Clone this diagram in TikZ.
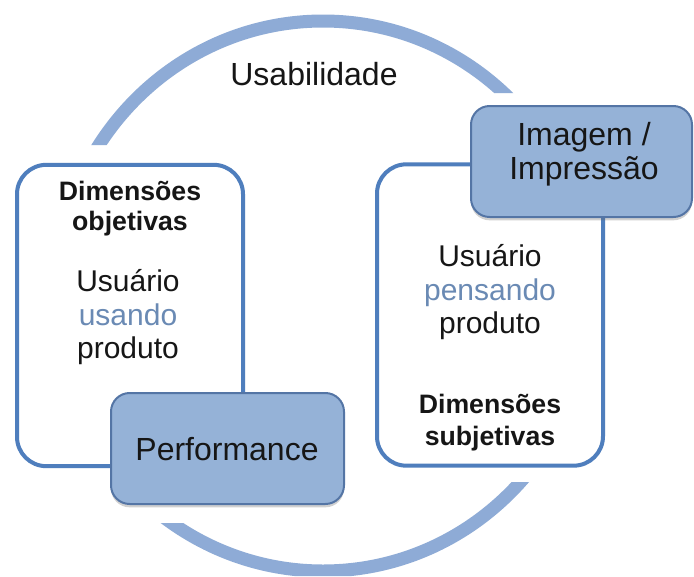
\documentclass[tikz,border=0pt]{standalone}
\usepackage{fontspec}
\setmainfont{Liberation Sans}
\usetikzlibrary{shadows}
\definecolor{ringblue}{RGB}{142,171,214}
\definecolor{boxfill}{RGB}{149,178,215}
\definecolor{frameblue}{RGB}{79,126,189}
\definecolor{boxedge}{RGB}{84,117,165}
\definecolor{accent}{RGB}{106,138,180}
\definecolor{txt}{RGB}{22,22,22}
\begin{document}
\begin{tikzpicture}[x=0.75pt,y=-0.75pt,
  framebox/.style={draw=frameblue, line width=3pt, fill=white, rounded corners=22pt,
    minimum width=169.5pt, minimum height=226pt, inner sep=0pt},
  bluebox/.style={draw=boxedge, line width=1.5pt, fill=boxfill, rounded corners=14pt,
    minimum height=83.25pt, inner sep=0pt,
    drop shadow={shadow xshift=0pt, shadow yshift=-2.5pt, opacity=0.3, fill=black!60}},
  bigtxt/.style={anchor=base, text=txt, font=\fontsize{24}{28}\selectfont, inner sep=0pt},
  bodytxt/.style={anchor=base, text=txt, font=\fontsize{22.5}{26}\selectfont, inner sep=0pt},
  boldtxt/.style={anchor=base, text=txt, font=\fontsize{20}{24}\selectfont\bfseries, inner sep=0pt},
  ring/.style={draw=ringblue, line width=9.75pt}
]
\useasboundingbox (0,0) rectangle (694,576);
\fill[white] (0,0) rectangle (694,576);
% ring, visible only in the top and bottom bands
\begin{scope}
  \clip (0,0) rectangle (323,145) (323,0) rectangle (694,93)
        (0,523) rectangle (323,576) (323,482) rectangle (694,576);
  \coordinate (rc) at (323,296);
  \draw[ring] (rc) ellipse[x radius=201pt, y radius=206.25pt];
\end{scope}
\node[bigtxt, font=\fontsize{24}{28}\selectfont] (usab) at (314,85) {Usabilidade};
% white frames
\node[framebox] (left) at (130,315.5) {};
\node[framebox] (right) at (490,315) {};
% blue boxes
\node[bluebox, minimum width=174.75pt] (perf) at (227.5,448.5) {};
\node[bluebox, minimum width=165.75pt] (imag) at (581.5,161.5) {};
\node[bigtxt] (perft) at (227,460) {Performance};
\node[bigtxt] (imag1) at (584,145) {Imagem /};
\node[bigtxt] (imag2) at (584,179) {Impressão};
% left texts
\node[boldtxt] (lb1) at (130,200) {Dimensões};
\node[boldtxt] (lb2) at (130,230) {objetivas};
\node[bodytxt] (l1) at (128,291) {Usuário};
\node[bodytxt, text=accent] (l2) at (128,325) {usando};
\node[bodytxt] (l3) at (128,358) {produto};
% right texts
\node[bodytxt] (r1) at (490,266) {Usuário};
\node[bodytxt, text=accent] (r2) at (490,300) {pensando};
\node[bodytxt] (r3) at (490,333) {produto};
\node[boldtxt] (rb1) at (490,413) {Dimensões};
\node[boldtxt] (rb2) at (490,445) {subjetivas};
\end{tikzpicture}
\end{document}
